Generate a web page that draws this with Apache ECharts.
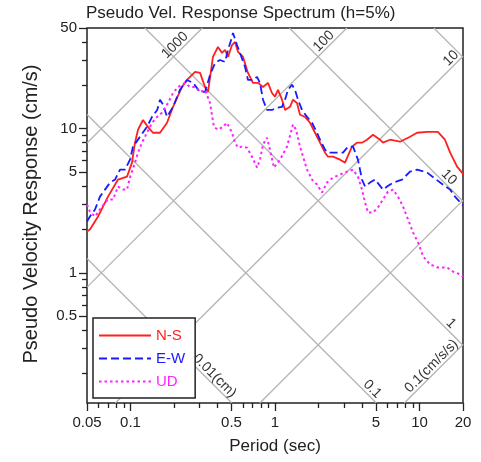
<!DOCTYPE html>
<html><head><meta charset="utf-8">
<script src="https://cdn.jsdelivr.net/npm/echarts@6/dist/echarts.min.js"></script>
<style>html,body{margin:0;padding:0;background:#fff}#c{width:481px;height:462px}</style>
</head><body><div id="c"></div>
<script>
// ---- axis ranges & ticks ----
const periodRange = [0.05, 20];
const velRange = [0.125, 50];
const xMajorTicks = [0.05, 0.1, 0.5, 1, 5, 10, 20];
const xMinorTicks = [0.06, 0.07, 0.08, 0.09, 0.2, 0.3, 0.4, 0.6, 0.7, 0.8, 0.9, 2, 3, 4, 6, 7, 8, 9];
const yMajorTicks = [0.5, 1, 5, 10, 50];
const yMinorTicks = [0.2, 0.3, 0.4, 0.6, 0.7, 0.8, 0.9, 2, 3, 4, 6, 7, 8, 9, 20, 30, 40];

// ---- tripartite grid values ----
const dispLines = [0.001, 0.01, 0.1, 1, 10, 100, 1000];      // cm
const accLines = [0.01, 0.1, 1, 10, 100, 1000, 10000];       // cm/s/s
const diagLabels = [
  {kind: 'A', val: 0.1, text: '0.1(cm/s/s)', gap: 3},
  {kind: 'A', val: 10, text: '10', gap: 2},
  {kind: 'A', val: 100, text: '100', gap: 14},
  {kind: 'A', val: 1000, text: '1000', gap: 16},
  {kind: 'D', val: 0.01, text: '0.01(cm)', gap: 4},
  {kind: 'D', val: 0.1, text: '0.1', gap: 3},
  {kind: 'D', val: 1, text: '1', gap: 20},
  {kind: 'D', val: 10, text: '10', gap: 19}
];

// ---- series: [period (s), pseudo velocity (cm/s)] ----
const nsData = [[0.05,1.94],[0.0524,2.00],[0.0596,2.46],[0.0699,3.38],[0.082,4.44],[0.0946,4.65],[0.1024,5.82],[0.1074,8.00],[0.1127,9.84],[0.122,11.5],[0.132,10.3],[0.143,9.38],[0.160,9.38],[0.179,11.0],[0.197,14.2],[0.227,19.5],[0.246,21.8],[0.280,24.8],[0.303,24.4],[0.328,19.5],[0.344,18.0],[0.372,31.5],[0.403,36.9],[0.430,33.6],[0.451,35.2],[0.473,31.5],[0.504,38.1],[0.529,40.0],[0.555,34.1],[0.601,31.5],[0.650,24.4],[0.704,20.8],[0.763,20.8],[0.826,19.5],[0.894,20.8],[0.953,17.7],[1.0,16.7],[1.049,18.6],[1.118,15.9],[1.173,13.5],[1.270,14.2],[1.332,15.9],[1.420,15.1],[1.490,12.5],[1.613,12.1],[1.747,11.0],[1.892,9.38],[2.049,8.00],[2.219,6.82],[2.327,6.40],[2.520,6.40],[2.818,6.10],[3.051,5.82],[3.41,7.51],[3.69,8.00],[4.00,8.00],[4.33,8.39],[4.77,9.09],[5.33,8.39],[5.59,8.00],[6.25,8.39],[7.33,8.13],[8.60,8.80],[9.61,9.38],[11.3,9.5],[13.4,9.5],[15.0,8.39],[16.3,6.82],[18.2,5.46],[19.7,4.96],[20,4.81]];
const ewData = [[0.05,2.27],[0.0524,2.46],[0.0568,2.75],[0.0615,3.38],[0.0666,3.78],[0.0722,4.23],[0.0782,4.44],[0.0846,5.20],[0.0916,5.20],[0.0992,6.10],[0.104,7.51],[0.1164,8.80],[0.130,10.3],[0.141,12.1],[0.153,13.5],[0.160,15.9],[0.168,14.7],[0.179,12.1],[0.197,14.2],[0.220,18.6],[0.246,21.8],[0.271,20.8],[0.303,18.0],[0.328,18.0],[0.355,23.6],[0.385,28.6],[0.416,30.0],[0.451,29.1],[0.473,35.2],[0.504,43.3],[0.512,46.2],[0.546,38.1],[0.572,33.6],[0.620,26.9],[0.650,21.8],[0.704,21.8],[0.751,22.9],[0.787,20.8],[0.826,15.9],[0.880,13.5],[0.953,13.5],[1.032,14.0],[1.118,14.2],[1.173,15.9],[1.230,18.6],[1.311,20.2],[1.375,18.6],[1.443,15.9],[1.538,13.5],[1.666,12.1],[1.803,11.0],[1.953,9.38],[2.049,8.39],[2.219,7.16],[2.327,6.82],[2.686,6.82],[2.955,6.82],[3.20,7.51],[3.47,7.51],[3.75,6.10],[4.00,4.44],[4.20,3.97],[4.54,4.23],[4.92,4.44],[5.59,3.78],[5.96,3.97],[6.56,4.23],[7.57,4.44],[8.60,5.04],[9.61,5.20],[11.3,4.96],[13.9,4.23],[16.3,3.78],[17.6,3.38],[19.7,2.98],[20,2.94]];
const udData = [[0.05,2.98],[0.0524,2.66],[0.0568,2.46],[0.0635,2.89],[0.0699,3.23],[0.0757,3.23],[0.082,3.97],[0.0887,3.78],[0.0946,3.78],[0.0992,4.58],[0.1074,5.82],[0.1127,6.82],[0.120,8.00],[0.130,9.38],[0.141,11.0],[0.153,12.1],[0.165,12.9],[0.182,15.1],[0.197,17.7],[0.213,19.5],[0.238,20.8],[0.258,19.5],[0.280,19.5],[0.303,18.0],[0.328,18.6],[0.355,15.1],[0.366,12.5],[0.378,10.3],[0.403,9.84],[0.437,10.3],[0.465,11.0],[0.504,9.38],[0.529,8.00],[0.555,7.39],[0.591,7.51],[0.640,7.39],[0.693,6.40],[0.751,5.37],[0.787,6.10],[0.826,7.75],[0.880,8.66],[0.923,7.16],[0.984,5.37],[1.083,6.10],[1.211,7.51],[1.332,10.7],[1.398,9.84],[1.490,7.51],[1.666,5.20],[1.803,4.44],[1.953,4.10],[2.115,3.61],[2.290,4.23],[2.520,4.58],[2.818,4.81],[3.15,5.04],[3.47,5.20],[3.75,4.65],[4.00,3.78],[4.20,3.08],[4.40,2.62],[4.77,2.62],[5.16,2.84],[5.59,3.23],[6.05,3.66],[6.56,3.78],[7.10,3.38],[7.69,2.89],[8.33,2.35],[9.02,1.91],[9.77,1.63],[10.6,1.30],[11.8,1.145],[13.4,1.09],[15.5,1.09],[17.1,1.02],[19.1,0.976],[20,0.94]];

const seriesNames = ['N-S', 'E-W', 'UD'];
const seriesColors = ['#ff2020', '#1a1aff', '#ff22ff'];

// ---- build ----
const TWO_PI = 2 * Math.PI;
const [T0, T1] = periodRange, [V0, V1] = velRange;
function dispSegment(D) {
  let a = [T0, TWO_PI * D / T0], b = [T1, TWO_PI * D / T1];
  if (a[1] > V1) a = [TWO_PI * D / V1, V1];
  if (b[1] < V0) b = [TWO_PI * D / V0, V0];
  return a[0] < b[0] ? [a, b] : null;
}
function accSegment(A) {
  let a = [T0, A * T0 / TWO_PI], b = [T1, A * T1 / TWO_PI];
  if (a[1] < V0) a = [TWO_PI * V0 / A, V0];
  if (b[1] > V1) b = [TWO_PI * V1 / A, V1];
  return a[0] < b[0] ? [a, b] : null;
}
const diagSeries = [];
dispLines.concat(accLines).forEach((v, i) => {
  const seg = i < dispLines.length ? dispSegment(v) : accSegment(v);
  if (!seg) return;
  diagSeries.push({type: 'line', data: seg, symbol: 'none', silent: true, z: 1,
    lineStyle: {color: '#b4b4b4', width: 1.3}, xAxisIndex: 0, yAxisIndex: 0, animation: false});
});
const labelData = diagLabels.map(s => (s.kind === 'A' ? accSegment(s.val) : dispSegment(s.val))[1]);
const FONT = '"Liberation Sans", Arial, sans-serif';

function nearestLabel(list, logv) {
  let best = list[0], bd = Infinity;
  list.forEach(t => { const d = Math.abs(Math.log10(t) - logv); if (d < bd) { bd = d; best = t; } });
  return String(best);
}
const lg = a => a.map(v => Math.log10(v));

const dataSeries = [nsData, ewData, udData].map((d, i) => ({
  name: seriesNames[i], type: 'line', data: d, symbol: 'none', z: 3,
  xAxisIndex: 0, yAxisIndex: 0,
  lineStyle: {color: seriesColors[i], width: i === 2 ? 2 : 1.8,
    type: i === 0 ? 'solid' : (i === 1 ? [8, 4] : [2.5, 3])},
  itemStyle: {color: seriesColors[i]}
}));

const tickAxis = (min, max, pos, ticks, len, labels, margin) => ({
  type: 'value', min: min, max: max, position: pos,
  axisLine: {show: false, onZero: false}, splitLine: {show: false},
  axisTick: {show: true, customValues: lg(ticks), length: len, lineStyle: {color: '#222', width: 1.3}},
  axisLabel: labels ? {show: true, customValues: lg(ticks), margin: margin, fontSize: 15, color: '#222',
    formatter: v => nearestLabel(ticks, v)} : {show: false}
});

const chart = echarts.init(document.getElementById('c'), null, {renderer: 'canvas'});
chart.setOption({
  animation: false,
  textStyle: {fontFamily: FONT},
  title: {text: 'Pseudo Vel. Response Spectrum (h=5%)', left: 86, top: 5, padding: 0,
    textStyle: {fontSize: 17, fontWeight: 'normal', color: '#222', fontFamily: FONT}},
  grid: {left: 87, right: 18, top: 28, bottom: 59, show: true, borderColor: '#222', borderWidth: 1.5, backgroundColor: 'transparent'},
  legend: {
    orient: 'vertical', left: 93, top: 318, z: 10,
    backgroundColor: '#fff', borderColor: '#222', borderWidth: 1.5, borderRadius: 0,
    padding: [10, 10, 9, 5], itemWidth: 52, itemHeight: 14, itemGap: 8,
    itemStyle: {opacity: 0},
    textStyle: {fontSize: 15, fontFamily: FONT},
    data: seriesNames.map((n, i) => ({name: n, textStyle: {color: seriesColors[i]}}))
  },
  xAxis: [
    {type: 'log', logBase: 10, min: T0, max: T1, show: false, splitLine: {show: false}, axisLine: {onZero: false}},
    tickAxis(Math.log10(T0), Math.log10(T1), 'bottom', xMajorTicks, 8, true, 12),
    tickAxis(Math.log10(T0), Math.log10(T1), 'bottom', xMinorTicks, 5, false)
  ],
  yAxis: [
    {type: 'log', logBase: 10, min: V0, max: V1, show: false, splitLine: {show: false}, axisLine: {onZero: false}},
    tickAxis(Math.log10(V0), Math.log10(V1), 'left', yMajorTicks, 8, true, 10),
    tickAxis(Math.log10(V0), Math.log10(V1), 'left', yMinorTicks, 5, false)
  ],
  graphic: [
    {type: 'text', x: 31, y: 214, rotation: Math.PI / 2, z: 10,
      style: {text: 'Pseudo Velocity Response (cm/s)', fill: '#222', font: '20px ' + FONT,
        align: 'center', verticalAlign: 'middle', textAlign: 'center', textVerticalAlign: 'middle'}},
    {type: 'text', x: 275, y: 446, z: 10,
      style: {text: 'Period (sec)', fill: '#222', font: '17px ' + FONT,
        align: 'center', verticalAlign: 'middle', textAlign: 'center', textVerticalAlign: 'middle'}}
  ],
  series: diagSeries.concat([{
    type: 'custom', xAxisIndex: 0, yAxisIndex: 0, z: 2, silent: true,
    data: labelData,
    renderItem: function (params, api) {
      const s = diagLabels[params.dataIndex];
      const p = api.coord([api.value(0), api.value(1)]);
      const k = Math.SQRT1_2;
      const isA = s.kind === 'A';
      const bx = -k, by = isA ? k : -k;
      return {type: 'text', x: p[0] + bx * s.gap, y: p[1] + by * s.gap,
        rotation: isA ? Math.PI / 4 : -Math.PI / 4,
        style: {text: s.text, fill: '#333', font: '14px ' + FONT,
          align: 'right', verticalAlign: 'bottom', textAlign: 'right', textVerticalAlign: 'bottom'}};
    }
  }]).concat(dataSeries)
});
</script></body></html>
